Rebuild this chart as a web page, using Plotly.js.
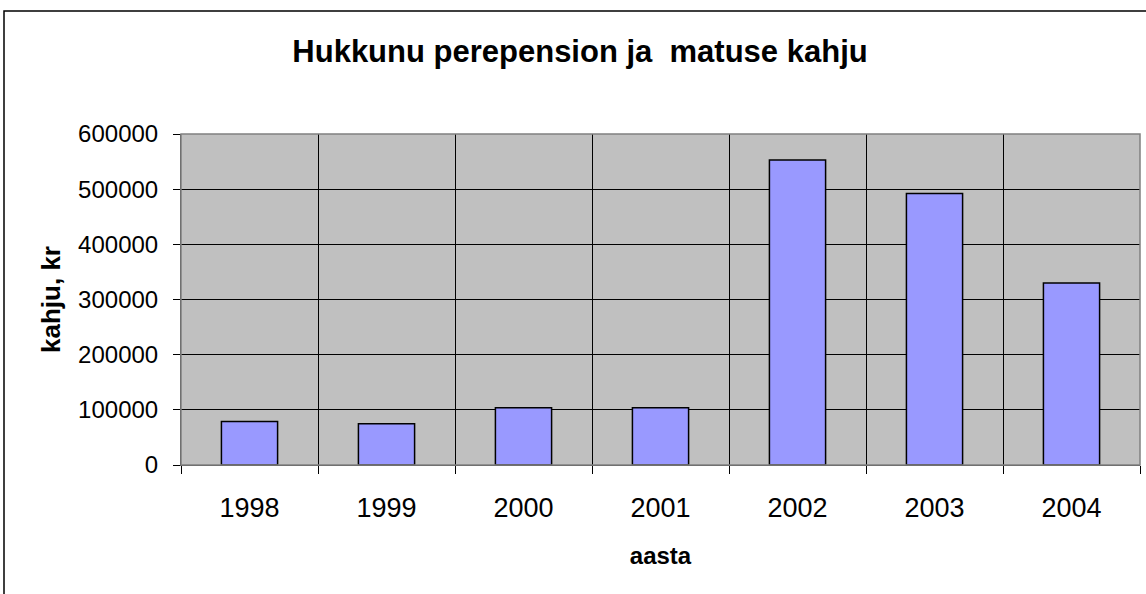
<!DOCTYPE html>
<html>
<head>
<meta charset="utf-8">
<script src="https://cdn.plot.ly/plotly-3.0.1.min.js"></script>
<style>
html,body{margin:0;padding:0;background:#fff;}
#chart{width:1146px;height:594px;}
</style>
</head>
<body>
<div id="chart"></div>
<script>
const years = ['1998', '1999', '2000', '2001', '2002', '2003', '2004'];
const damage = [79000, 75000, 104000, 104000, 553000, 492000, 330000];
const titleText = 'Hukkunu perepension ja  matuse kahju';
const xTitle = 'aasta';
const yTitle = 'kahju, kr';

const W = 1146, H = 594;
const ml = 181, mr = 6, mt = 134, mb = 129;
const pw = W - ml - mr, ph = H - mt - mb;
const px = v => (v - ml) / pw;
const py = v => 1 - (v - mt) / ph;

const font = 'Arial, "Liberation Sans", sans-serif';

const trace = {
  type: 'bar',
  x: years,
  y: damage,
  width: 0.41,
  marker: {color: '#9999FF', line: {color: '#000000', width: 1.5}},
  hoverinfo: 'x+y'
};

const layout = {
  width: W, height: H,
  margin: {l: ml, r: mr, t: mt, b: mb, pad: 0},
  paper_bgcolor: '#ffffff',
  plot_bgcolor: '#C0C0C0',
  showlegend: false,
  bargap: 0.59,
  title: {
    text: '<b>' + titleText + '</b>',
    font: {family: font, size: 31, color: '#000'},
    x: 580 / W, xanchor: 'center', xref: 'container',
    y: 1 - 51 / H, yanchor: 'middle', yref: 'container'
  },
  xaxis: {
    type: 'category',
    tickson: 'boundaries',
    showgrid: true, gridcolor: '#000000', gridwidth: 1,
    ticks: 'outside', ticklen: 8, tickcolor: '#000', tickwidth: 1,
    showline: true, linecolor: '#404040', linewidth: 1,
    tickfont: {family: font, size: 27, color: '#000'},
    ticklabelstandoff: 19,
    title: {text: '<b>' + xTitle + '</b>', font: {family: font, size: 24, color: '#000'}, standoff: 24},
    fixedrange: true
  },
  yaxis: {
    range: [0, 600000],
    dtick: 100000, tick0: 0,
    tickformat: 'd',
    showgrid: true, gridcolor: '#000000', gridwidth: 1,
    zeroline: false,
    ticks: 'outside', ticklen: 7, tickcolor: '#000', tickwidth: 1,
    showline: true, linecolor: '#404040', linewidth: 1,
    tickfont: {family: font, size: 24, color: '#000'},
    ticklabelstandoff: 10,
    title: {text: '<b>' + yTitle + '</b>', font: {family: font, size: 26, color: '#000'}, standoff: 10},
    fixedrange: true
  },
  shapes: [
    {type: 'rect', xref: 'paper', yref: 'paper', x0: 0, x1: 1, y0: 0, y1: 1,
     line: {color: '#808080', width: 1.5}, fillcolor: 'rgba(0,0,0,0)', layer: 'above'},
    {type: 'rect', xref: 'paper', yref: 'paper', x0: px(4), x1: px(1160), y0: py(610), y1: py(11),
     line: {color: '#000000', width: 1.5}, fillcolor: 'rgba(0,0,0,0)', layer: 'above'}
  ]
};

Plotly.newPlot('chart', [trace], layout, {displayModeBar: false, staticPlot: true});
</script>
</body>
</html>
